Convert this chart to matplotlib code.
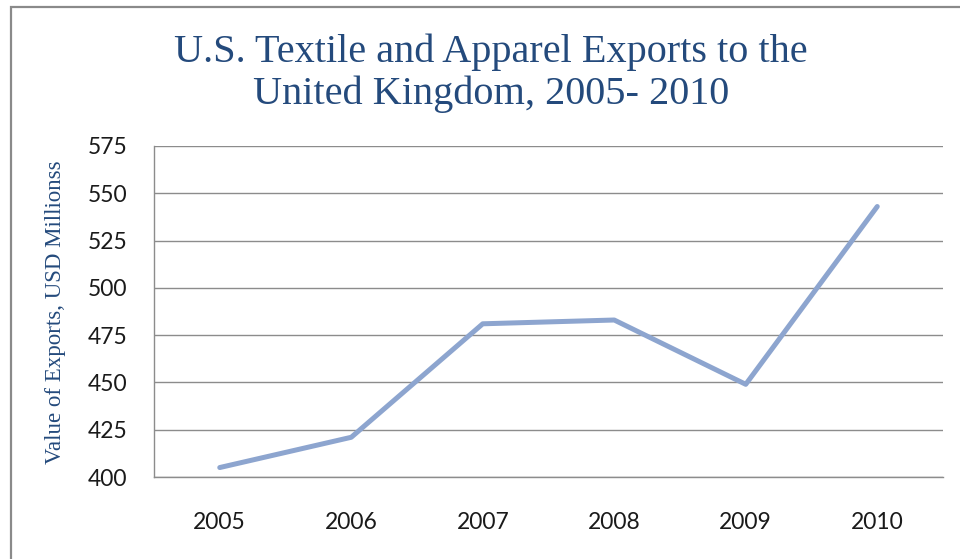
import matplotlib
matplotlib.use("Agg")
import matplotlib.pyplot as plt
from matplotlib.patches import Rectangle

years = ["2005", "2006", "2007", "2008", "2009", "2010"]
exports = [405, 421, 481, 483, 449, 543]
y_ticks = [400, 425, 450, 475, 500, 525, 550, 575]
title_lines = ["U.S. Textile and Apparel Exports to the", "United Kingdom, 2005- 2010"]

TITLE_BLUE = "#244A7C"
LINE_BLUE = "#8DA5CF"
GRID_GRAY = "#8C8C8C"

W, H = 960, 559
fig = plt.figure(figsize=(W / 100, H / 100), dpi=100)
fig.patch.set_facecolor("white")

# outer chart frame (cut off at right and bottom like the source)
fig.patches.append(Rectangle((11 / W, -0.05), 1.2, 1 - 7 / H + 0.05,
                             transform=fig.transFigure, fill=False,
                             edgecolor="#8A8A8A", linewidth=1.6))

ax = fig.add_axes([154 / W, 1 - 477 / H, (943 - 154) / W, (477 - 146) / H])
x = list(range(len(years)))
ax.plot(x, exports, color=LINE_BLUE, linewidth=3.6, solid_capstyle="round",
        solid_joinstyle="round", zorder=3)

ax.set_xlim(-0.5, len(years) - 0.5)
ax.set_ylim(400, 575)
ax.set_yticks(y_ticks)
ax.set_xticks(x)
ax.set_xticklabels(years)
ax.yaxis.grid(True, color=GRID_GRAY, linewidth=1.0)
ax.set_axisbelow(True)
for side in ("top", "right"):
    ax.spines[side].set_visible(False)
for side in ("left", "bottom"):
    ax.spines[side].set_color(GRID_GRAY)
    ax.spines[side].set_linewidth(1.0)
ax.tick_params(axis="both", length=0, labelsize=16.5, labelcolor="#1a1a1a")
ax.tick_params(axis="y", pad=19)
ax.tick_params(axis="x", pad=25)
for lab in ax.get_xticklabels() + ax.get_yticklabels():
    lab.set_family("Lato")

# title, one text per line so the baselines sit where the source has them
for line, base in zip(title_lines, [62, 104]):
    fig.text(491 / W, 1 - base / H, line, ha="center", va="baseline",
             color=TITLE_BLUE, fontsize=29, family="Liberation Serif")
fig.text(56 / W, 1 - 312 / H, "Value of Exports, USD Millionss",
         rotation=90, ha="center", va="center", color=TITLE_BLUE,
         fontsize=16.5, family="Liberation Serif")

fig.savefig("out.png", dpi=100)
